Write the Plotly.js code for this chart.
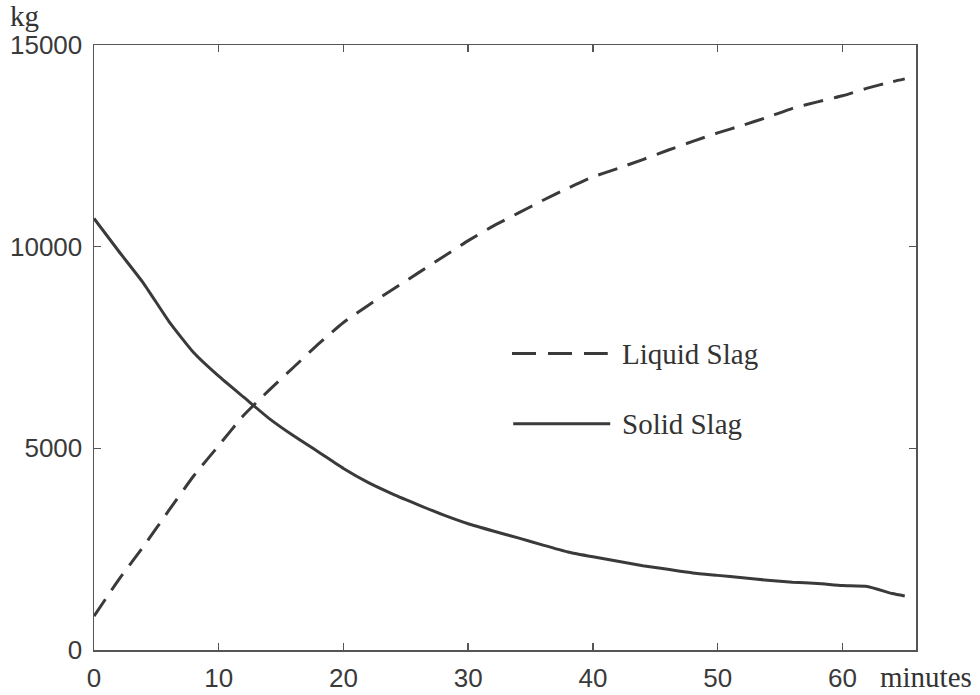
<!DOCTYPE html>
<html>
<head>
<meta charset="utf-8">
<script src="https://cdn.plot.ly/plotly-3.0.1.min.js"></script>
<style>
  html, body { margin: 0; padding: 0; background: #fff; }
  #chart { width: 980px; height: 695px; }
</style>
</head>
<body>
<div id="chart"></div>
<script>
// Time in minutes
const minutes = [0, 2, 4, 6, 8, 10, 12, 14, 16, 18, 20, 22, 24, 26, 28, 30, 32, 34, 36, 38, 40, 42, 44, 46, 48, 50, 52, 54, 56, 58, 60, 62, 64, 65];
// Liquid slag mass (kg)
const liquidSlag = [840, 1750, 2580, 3460, 4320, 5070, 5820, 6430, 7010, 7590, 8120, 8550, 8950, 9350, 9750, 10150, 10510, 10830, 11150, 11450, 11730, 11940, 12160, 12390, 12610, 12820, 13010, 13210, 13430, 13590, 13740, 13930, 14090, 14160];
// Solid slag mass (kg)
const solidSlag = [10700, 9880, 9080, 8150, 7370, 6790, 6270, 5750, 5310, 4910, 4500, 4150, 3860, 3600, 3350, 3130, 2950, 2780, 2600, 2430, 2310, 2200, 2090, 2000, 1910, 1850, 1790, 1730, 1680, 1650, 1600, 1575, 1400, 1340];

const xTicks = [0, 10, 20, 30, 40, 50, 60];
const yTicks = [0, 5000, 10000, 15000];
const seriesNames = ['Liquid Slag', 'Solid Slag'];

const lineColor = '#3a3a3a';
const dashPattern = '20px,11px';
const serif = 'Liberation Serif, Times New Roman, serif';

const traces = [
  { x: minutes, y: liquidSlag, name: seriesNames[0], type: 'scatter', mode: 'lines',
    line: { color: lineColor, width: 3, dash: dashPattern, shape: 'spline', smoothing: 0.5 }, showlegend: false },
  { x: minutes, y: solidSlag, name: seriesNames[1], type: 'scatter', mode: 'lines',
    line: { color: lineColor, width: 3, shape: 'spline', smoothing: 0.5 }, showlegend: false }
];

const axisCommon = {
  showline: true, linecolor: '#555', linewidth: 1.5, mirror: 'ticks',
  ticks: 'inside', ticklen: 7, tickwidth: 1.5, tickcolor: '#555',
  showgrid: false, zeroline: false,
  tickfont: { family: 'Liberation Sans, Arial, sans-serif', size: 26, color: '#3a3a3a' }
};

const layout = {
  width: 980, height: 695,
  margin: { l: 94, r: 64, t: 45, b: 45 },
  paper_bgcolor: '#fff', plot_bgcolor: '#fff',
  showlegend: false,
  xaxis: Object.assign({}, axisCommon, {
    range: [0, 65.9], tickmode: 'array', tickvals: xTicks, ticktext: xTicks.map(String),
    ticklabelstandoff: 4
  }),
  yaxis: Object.assign({}, axisCommon, {
    range: [0, 15000], tickmode: 'array', tickvals: yTicks, ticktext: yTicks.map(String),
    ticklabelstandoff: 5
  }),
  shapes: [
    { type: 'line', xref: 'paper', yref: 'paper', x0: 0.5085, x1: 0.625, y0: 0.49, y1: 0.49,
      line: { color: lineColor, width: 3, dash: '24px,12px' } },
    { type: 'line', xref: 'paper', yref: 'paper', x0: 0.51, x1: 0.628, y0: 0.374, y1: 0.374,
      line: { color: lineColor, width: 3 } }
  ],
  annotations: [
    { text: seriesNames[0], xref: 'paper', yref: 'paper', x: 0.64, y: 0.49, xanchor: 'left', yanchor: 'middle',
      showarrow: false, font: { family: serif, size: 29, color: '#333' } },
    { text: seriesNames[1], xref: 'paper', yref: 'paper', x: 0.64, y: 0.374, xanchor: 'left', yanchor: 'middle',
      showarrow: false, font: { family: serif, size: 29, color: '#333' } },
    { text: 'kg', xref: 'paper', yref: 'paper', x: -0.105, y: 1.0, yshift: 11, xanchor: 'left', yanchor: 'bottom',
      showarrow: false, font: { family: serif, size: 29, color: '#333' } },
    { text: 'minutes', xref: 'paper', yref: 'paper', x: 0.954, y: -0.045, xanchor: 'left', yanchor: 'middle',
      showarrow: false, font: { family: serif, size: 29, color: '#333' } }
  ]
};

Plotly.newPlot('chart', traces, layout, { staticPlot: true, displayModeBar: false });
</script>
</body>
</html>
